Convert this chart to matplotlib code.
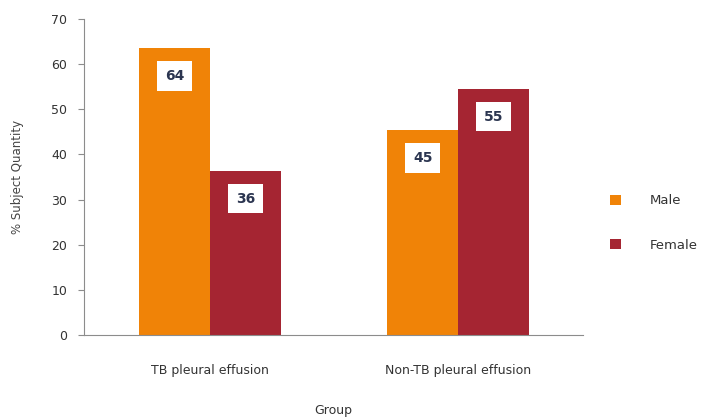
import numpy as np
import matplotlib.pyplot as plt

# data
groups = ["TB pleural effusion", "Non-TB pleural effusion"]
male = [63.6, 45.4]
female = [36.4, 54.6]
male_labels = ["64", "45"]
female_labels = ["36", "55"]

orange = "#F08307"
red = "#A52532"
grey = "#8c8c8c"

fig = plt.figure(figsize=(7.06, 4.19), dpi=100)
ax = fig.add_axes([0.119, 0.2005, 0.707, 0.754])

x = np.arange(len(groups))
w = 0.286
b1 = ax.bar(x - w/2, male, w, color=orange, label="Male")
b2 = ax.bar(x + w/2, female, w, color=red, label="Female")

# white value boxes near top of each bar
for bars, labs in ((b1, male_labels), (b2, female_labels)):
    for r, lab in zip(bars, labs):
        ax.text(r.get_x() + r.get_width()/2, r.get_height() - 6.2, lab,
                ha="center", va="center", fontsize=10, fontweight="bold",
                color="#2b3550",
                bbox=dict(boxstyle="square,pad=0.55", fc="white", ec="none"))

ax.set_xlim(-0.508, 1.504)
ax.set_ylim(0, 70)
ax.set_yticks(range(0, 71, 10))
ax.set_xticks(x)
ax.set_xticklabels(groups)
ax.tick_params(axis="x", length=0, pad=21, labelsize=9, labelcolor="#333333")
ax.tick_params(axis="y", length=4, color=grey, labelsize=9, labelcolor="#333333", pad=8)
for s in ("top", "right"):
    ax.spines[s].set_visible(False)
ax.spines["left"].set_color(grey)
ax.spines["bottom"].set_color(grey)

ax.set_xlabel("Group", fontsize=9, color="#333333", labelpad=19)
ax.set_ylabel("% Subject Quantity", fontsize=8.5, color="#444444", labelpad=20)

ax.legend(loc="center left", bbox_to_anchor=(1.03, 0.354), frameon=False,
          handlelength=0.8, handleheight=0.8, handletextpad=2.2,
          labelspacing=2.4, fontsize=9.5, labelcolor="#333333")

fig.savefig("out.png", dpi=100)
